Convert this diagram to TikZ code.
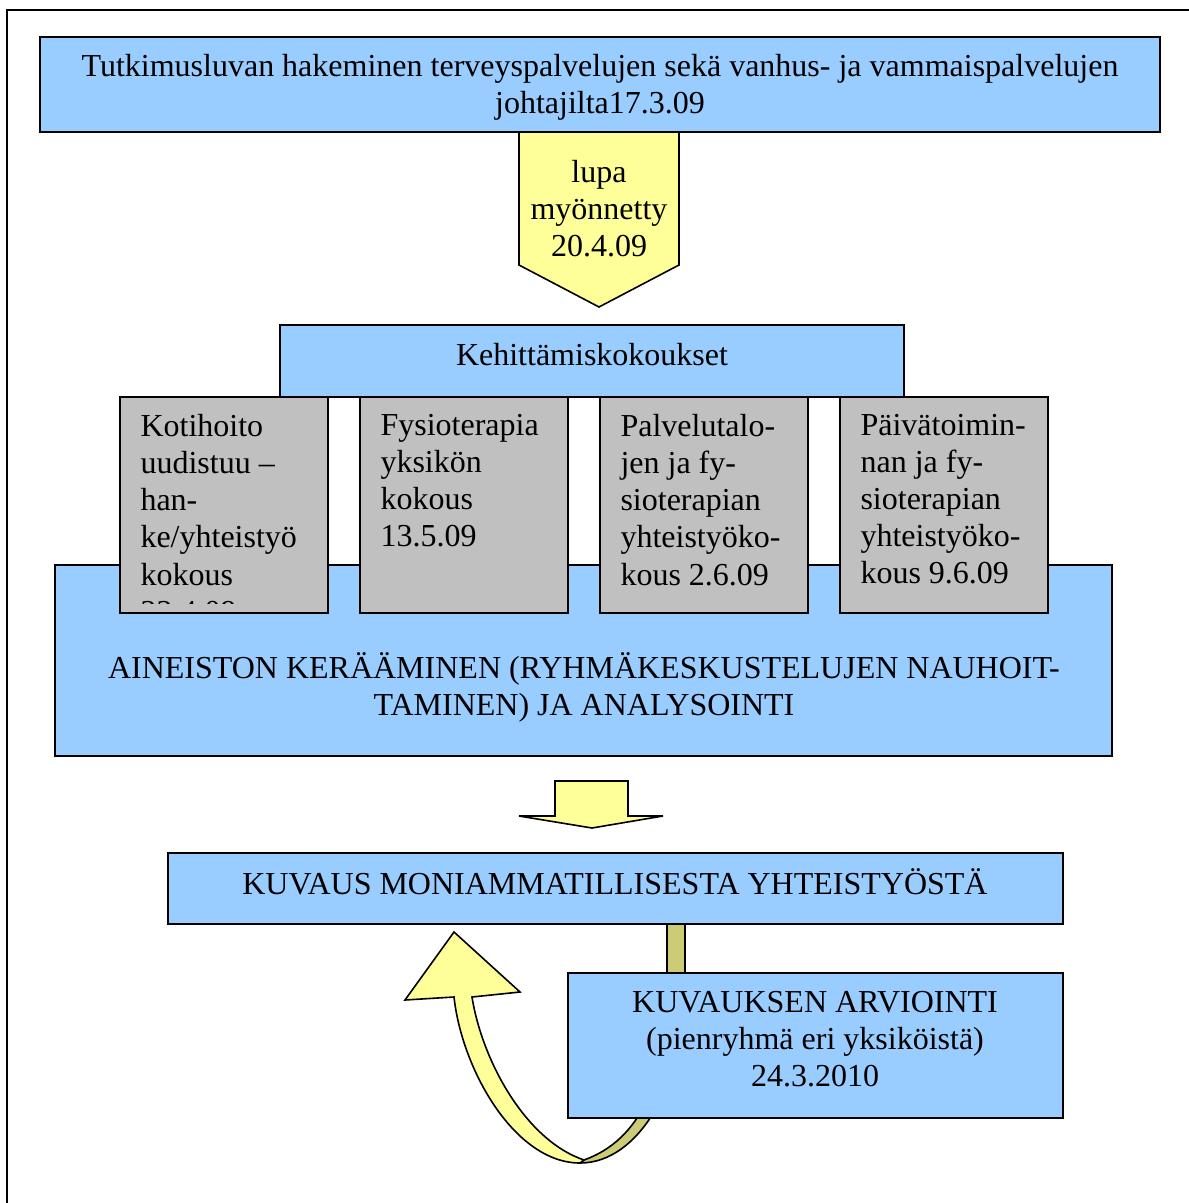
\documentclass[tikz,border=0pt]{standalone}
\usepackage{fontspec}
\setmainfont{Liberation Serif}
\definecolor{boxblue}{RGB}{153,204,255}
\definecolor{boxyellow}{RGB}{255,255,153}
\definecolor{boxgray}{RGB}{192,192,192}
\definecolor{ribbonback}{RGB}{204,204,119}
\begin{document}
\begin{tikzpicture}[x=0.375pt,y=-0.375pt,
  bluebox/.style={draw=black,line width=0.6pt,fill=boxblue},
  graybox/.style={draw=black,line width=0.6pt,fill=boxgray},
  yellowarrow/.style={draw=black,line width=0.6pt,fill=boxyellow,line join=miter},
  txt/.style={inner sep=0pt,font=\fontsize{12}{13.9}\selectfont}]
\useasboundingbox (0,0) rectangle (1188,1203);

% outer frame
\draw[line width=0.8pt] (7,1210) -- (7,10) -- (1195,10);

% permission request
\draw[bluebox] (40,37) rectangle (1160,132);
\node[txt,align=center] (hakeminen) at (600,87) {Tutkimusluvan hakeminen terveyspalvelujen sekä vanhus- ja vammaispalvelujen\\johtajilta17.3.09};

\draw[yellowarrow] (519,132) -- (679,132) -- (679,265) -- (599,307) -- (519,265) -- cycle;
\node[txt,align=center] (lupa) at (599,209) {lupa\\myönnetty\\20.4.09};

% development meetings
\draw[bluebox] (280,325) rectangle (904,397);
\node[txt,anchor=base] (kokoukset) at (592,365) {Kehittämiskokoukset};

\draw[bluebox] (55,565) rectangle (1112,756);
\node[txt,align=center] (aineisto) at (584,687) {AINEISTON KERÄÄMINEN (RYHMÄKESKUSTELUJEN NAUHOIT-\\TAMINEN) JA ANALYSOINTI};

\draw[graybox] (120,397) rectangle (328,613);
\begin{scope}
\clip (120,397) rectangle (328,603);
\node[txt,align=left,anchor=north west] (kotihoito) at (140,414) {Kotihoito\\uudistuu --\\han-\\ke/yhteistyö\\kokous\\22.4.09};
\end{scope}
\draw[graybox] (360,397) rectangle (568,613);
\node[txt,align=left,anchor=north west] (fysio) at (380,414) {Fysioterapia\\yksikön\\kokous\\13.5.09};
\draw[graybox] (600,397) rectangle (808,613);
\node[txt,align=left,anchor=north west] (palvelutalo) at (620,414) {Palvelutalo-\\jen ja fy-\\sioterapian\\yhteistyöko-\\kous 2.6.09};
\draw[graybox] (840,397) rectangle (1048,613);
\node[txt,align=left,anchor=north west] (paivatoiminta) at (860,414) {Päivätoimin-\\nan ja fy-\\sioterapian\\yhteistyöko-\\kous 9.6.09};

\draw[yellowarrow] (555,781) -- (628,781) -- (628,816) -- (663,816) -- (592,828) -- (519,816) -- (555,816) -- cycle;

% description and its evaluation
\draw[yellowarrow,fill=ribbonback] (667,920) -- (667,990) .. controls (667,1080) and (640,1140) .. (584,1160)
  -- (580,1163) .. controls (640,1163) and (685,1080) .. (685,990) -- (685,920) -- cycle;

\draw[bluebox] (168,853) rectangle (1063,924);
\node[txt,anchor=base] (kuvaus) at (615,894) {KUVAUS MONIAMMATILLISESTA YHTEISTYÖSTÄ};

\draw[bluebox] (568,973) rectangle (1063,1118);
\node[txt,align=center] (arviointi) at (815,1039) {KUVAUKSEN ARVIOINTI\\(pienryhmä eri yksiköistä)\\24.3.2010};

\draw[yellowarrow] (580,1163) .. controls (515,1163) and (462,1070) .. (454,997)
  -- (405,1000) -- (454,932) -- (520,992) -- (472,997)
  .. controls (482,1060) and (525,1140) .. (584,1160) -- cycle;
\end{tikzpicture}
\end{document}
